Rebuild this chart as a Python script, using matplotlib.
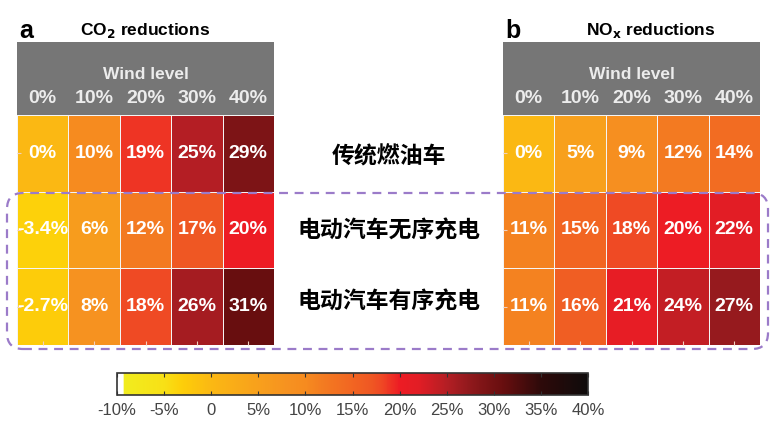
import matplotlib
matplotlib.use("Agg")
import matplotlib.pyplot as plt
import numpy as np
from matplotlib.colors import LinearSegmentedColormap, Normalize
from matplotlib.patches import FancyBboxPatch
from matplotlib.cm import ScalarMappable

plt.rcParams['font.family'] = ['Liberation Sans', 'Noto Sans CJK SC', 'DejaVu Sans']

# ---------------- data ----------------
wind_levels = ["0%", "10%", "20%", "30%", "40%"]
scenarios = ["传统燃油车", "电动汽车无序充电", "电动汽车有序充电"]
co2_values = [[0, 10, 19, 25, 29],
              [-3.4, 6, 12, 17, 20],
              [-2.7, 8, 18, 26, 31]]
nox_values = [[0, 5, 9, 12, 14],
              [11, 15, 18, 20, 22],
              [11, 16, 21, 24, 27]]
cbar_ticks = [-10, -5, 0, 5, 10, 15, 20, 25, 30, 35, 40]
cbar_labels = ["-10%", "-5%", "0", "5%", "10%", "15%", "20%", "25%", "30%", "35%", "40%"]

# ---------------- colormap ----------------
vmin, vmax = -10, 40
stops = [(-10, "#ffffff"), (-9.35, "#ffffff"), (-9.25, "#f1ec1e"), (-5, "#f8e016"),
         (-3.4, "#fdd10a"), (-2.7, "#fdcb0a"), (0, "#fbb813"), (5, "#f8a01c"),
         (8, "#f69220"), (10, "#f68b1f"), (12, "#f37a21"), (15, "#f26522"),
         (17, "#ef5723"), (18, "#ef4a24"), (20, "#ed1c24"), (22, "#e21d25"),
         (25, "#b41e24"), (27, "#961a1e"), (29, "#7d1416"), (31, "#680e0f"),
         (35, "#2e0a0a"), (40, "#0e0b0b")]
cmap = LinearSegmentedColormap.from_list(
    "wind", [((v - vmin) / (vmax - vmin), c) for v, c in stops], N=512)
norm = Normalize(vmin, vmax)

W, H = 783, 429
fig = plt.figure(figsize=(W / 100, H / 100), dpi=100)


def fr(x0, y0, x1, y1):
    """pixel box (top-left origin) -> figure fraction rect"""
    return [x0 / W, (H - y1) / H, (x1 - x0) / W, (y1 - y0) / H]


def panel(x0, x1, values, letter, title_main, title_x):
    # header
    hax = fig.add_axes(fr(x0, 42, x1, 115))
    hax.set_facecolor("#767676")
    hax.set_xlim(-0.5, 4.5)
    hax.set_ylim(0, 1)
    for s in hax.spines.values():
        s.set_visible(False)
    hax.set_xticks([])
    hax.set_yticks([])
    hax.text(2, 0.56, "Wind level", ha="center", va="center", color="#ececec",
             fontsize=12.5, fontweight="bold")
    for i, lab in enumerate(wind_levels):
        hax.text(i, 0.22, lab, ha="center", va="center", color="#ececec",
                 fontsize=14, fontweight="bold")
    # cells
    ax = fig.add_axes(fr(x0, 115, x1, 345))
    arr = np.array(values, dtype=float)
    ax.pcolormesh(np.arange(6) - 0.5, np.arange(4) - 0.5, arr, cmap=cmap, norm=norm,
                  edgecolors="#f4f4f4", linewidth=0.6)
    ax.set_xlim(-0.5, 4.5)
    ax.set_ylim(2.5, -0.5)
    for s in ax.spines.values():
        s.set_visible(False)
    ax.set_xticks(range(5))
    ax.set_yticks(range(3))
    ax.set_xticklabels([])
    ax.set_yticklabels([])
    ax.tick_params(direction="in", length=3, color="#f0d0c0", width=0.8)
    for r in range(arr.shape[0]):
        for c in range(arr.shape[1]):
            ax.text(c, r, f"{arr[r, c]:g}%", ha="center", va="center",
                    color="white", fontsize=14, fontweight="bold")
    # titles
    fig.text((x0 + 2) / W, (H - 31) / H, letter, ha="left", va="center",
             fontsize=18, fontweight="bold")
    fig.text(title_x / W, (H - 30) / H, title_main, ha="left", va="center",
             fontsize=12.5, fontweight="bold")
    return ax


panel(17, 274, co2_values, "a", "CO$_\\mathbf{2}$ reductions", 80)
panel(503, 760, nox_values, "b", "NO$_\\mathbf{x}$ reductions", 586)

# middle labels
for y, lab in zip([157, 231, 302], scenarios):
    fig.text(389 / W, (H - y) / H, lab, ha="center", va="center", fontsize=16.5,
             fontweight="bold", family=["Noto Sans CJK SC", "DejaVu Sans"])

# dashed rounded box (in inches)
box = FancyBboxPatch((7 / 100, (H - 349) / 100), (768 - 7) / 100, (349 - 193) / 100,
                     boxstyle="round,pad=0,rounding_size=0.16",
                     transform=fig.dpi_scale_trans, fill=False,
                     edgecolor="#9b7bc9", linewidth=1.6, linestyle=(0, (4, 3)))
fig.add_artist(box)

# colorbar
cax = fig.add_axes(fr(117, 373, 588, 395))
sm = ScalarMappable(norm=norm, cmap=cmap)
cb = fig.colorbar(sm, cax=cax, orientation="horizontal", ticks=cbar_ticks)
cb.set_ticklabels(cbar_labels)
cb.outline.set_linewidth(1.2)
cb.outline.set_edgecolor("#333333")
cax.tick_params(axis="x", direction="in", length=3, width=0.8, color="#333333",
                labelsize=12, labelcolor="#444444", pad=6, top=True)

fig.savefig("out.png", dpi=100)
